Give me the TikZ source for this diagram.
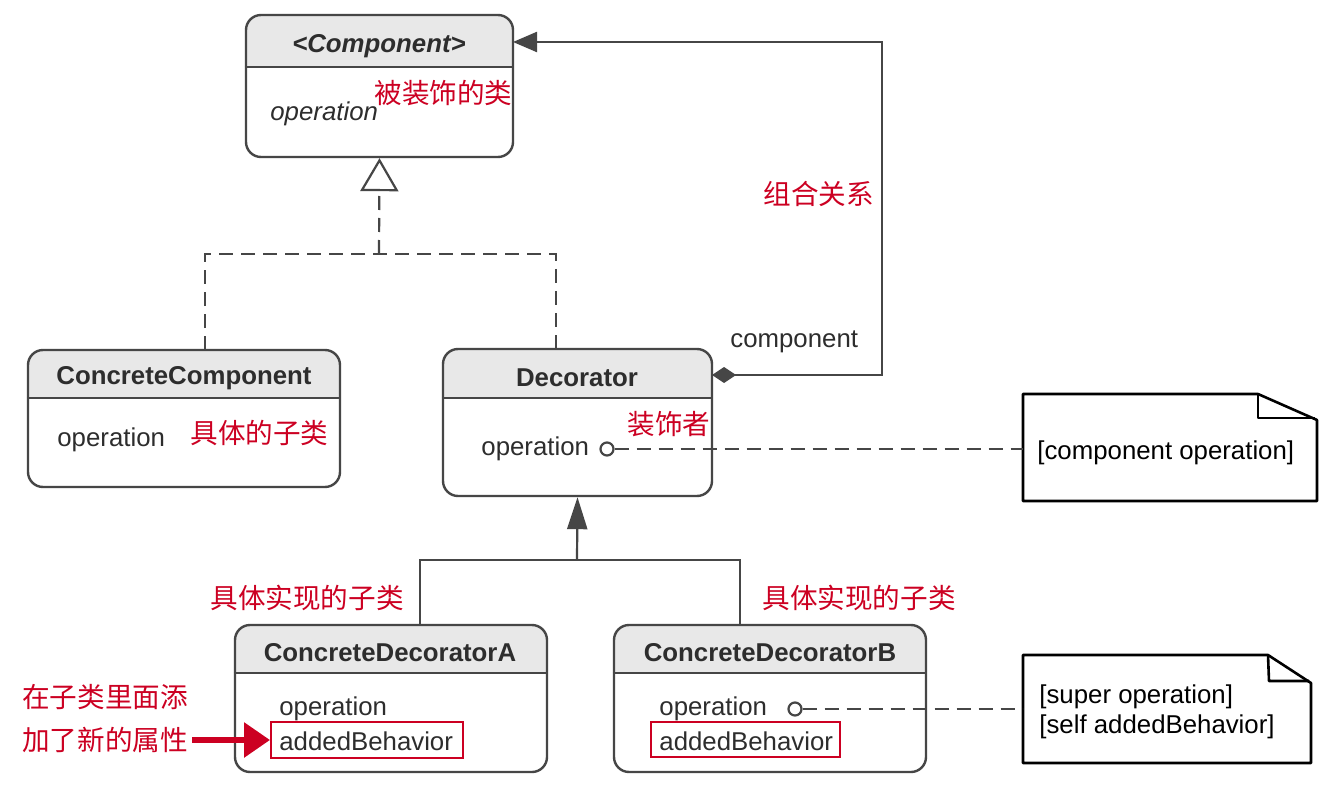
\documentclass[tikz,border=0pt]{standalone}
\usepackage{fontspec}
\setmainfont{Liberation Sans}
\newfontfamily\cjk{Noto Sans CJK SC}
\usetikzlibrary{arrows.meta,fit,calc}
\definecolor{redc}{RGB}{204,0,34}
\definecolor{linec}{RGB}{70,70,70}
\definecolor{headc}{RGB}{232,232,232}
\definecolor{txtc}{RGB}{45,45,45}
\newcommand\classhead[5]{%
  \begin{scope}\clip[rounded corners=7.5pt] (#1,#2) rectangle (#3,#4);
  \fill[headc] (#1,#2) rectangle (#3,#5);\end{scope}}
\begin{document}
\begin{tikzpicture}[x=0.5pt,y=-0.5pt,
  classbox/.style={draw=linec, line width=1.2pt, rounded corners=7.5pt, inner sep=0pt},
  sepline/.style={draw=linec, line width=1.1pt},
  title/.style={font=\fontsize{12.9}{15}\selectfont\bfseries, text=txtc, inner sep=0pt},
  member/.style={font=\fontsize{12.9}{15}\selectfont, text=txtc, inner sep=0pt, anchor=west},
  itmember/.style={member, font=\fontsize{12.9}{15}\selectfont\itshape},
  redlabel/.style={font=\cjk\fontsize{13.8}{16}\selectfont, text=redc, inner sep=0pt, anchor=west},
  notetext/.style={font=\fontsize{12.9}{15}\selectfont, text=black, inner sep=0pt, anchor=west, align=left},
  notebox/.style={draw=black, line width=1.3pt, line join=round},
  conn/.style={draw=linec, line width=1.1pt},
  dashc/.style={conn, dash pattern=on 7pt off 4pt},
  redbox/.style={draw=redc, line width=1pt, inner sep=0pt},
  opcirc/.style={circle, draw=linec, line width=1.1pt, fill=white, minimum size=6.5pt, inner sep=0pt},
]
\useasboundingbox (0,0) rectangle (1338,786);
\fill[white] (0,0) rectangle (1338,786);

% ---- Component
\classhead{246}{15}{513}{157}{67}
\node[classbox, fit={(246,15)(513,157)}] (comp) {};
\draw[sepline] (comp.west |- 0,67) -- (comp.east |- 0,67);
\node[title, font=\fontsize{12.9}{15}\selectfont\bfseries\itshape] (compT) at (379,46) {<Component>};
\node[itmember] (compOp) at (270,114) {operation};
\node[redlabel] (lblComp) at (374,93) {被装饰的类};

% ---- ConcreteComponent
\classhead{28}{350}{340}{487}{398}
\node[classbox, fit={(28,350)(340,487)}] (cc) {};
\draw[sepline] (cc.west |- 0,398) -- (cc.east |- 0,398);
\node[title] (ccT) at (184,378) {ConcreteComponent};
\node[member] (ccOp) at (57,440) {operation};
\node[redlabel] (lblCC) at (190,433) {具体的子类};

% ---- Decorator
\classhead{443}{349}{712}{496}{398}
\node[classbox, fit={(443,349)(712,496)}] (dec) {};
\draw[sepline] (dec.west |- 0,398) -- (dec.east |- 0,398);
\node[title] (decT) at (577,378) {Decorator};
\node[member] (decOp) at (481,449) {operation};
\node[opcirc] (decC) at (607,449) {};
\node[redlabel] (lblDec) at (627,424) {装饰者};

% ---- ConcreteDecoratorA
\classhead{235}{625}{547}{772}{673}
\node[classbox, fit={(235,625)(547,772)}] (cda) {};
\draw[sepline] (cda.west |- 0,673) -- (cda.east |- 0,673);
\node[title] (cdaT) at (390,653) {ConcreteDecoratorA};
\node[member] (cdaOp) at (279,709) {operation};
\node[member] (cdaAdd) at (279,741) {addedBehavior};
\node[redbox, fit={(271,722)(463,758)}] (redA) {};

% ---- ConcreteDecoratorB
\classhead{614}{625}{926}{772}{673}
\node[classbox, fit={(614,625)(926,772)}] (cdb) {};
\draw[sepline] (cdb.west |- 0,673) -- (cdb.east |- 0,673);
\node[title] (cdbT) at (770,653) {ConcreteDecoratorB};
\node[member] (cdbOp) at (659,709) {operation};
\node[opcirc] (cdbC) at (795,709) {};
\node[member] (cdbAdd) at (659,741) {addedBehavior};
\node[redbox, fit={(651,722)(840,757)}] (redB) {};

% ---- Notes
\node[inner sep=0pt, fit={(1023,394)(1317,501)}] (note1) {};
\draw[notebox] (1023,394) -- (1258,394) -- (1317,420) -- (1317,501) -- (1023,501) -- cycle;
\draw[notebox] (1258,394) -- (1258,418) -- (1315,418);
\node[notetext] (note1T) at (1037,453) {[component operation]};

\node[inner sep=0pt, fit={(1023,655)(1311,763)}] (note2) {};
\draw[notebox] (1023,655) -- (1268,655) -- (1311,683) -- (1311,763) -- (1023,763) -- cycle;
\draw[notebox] (1268,655) -- (1269,681) -- (1309,681);
\node[notetext] (note2T) at (1039,712) {[super operation]\\{}[self addedBehavior]};

% ---- Generalization Component <- CC, Decorator
\coordinate (gen) at (379,254);
\coordinate (ccTop) at (205,350);
\coordinate (decTop) at (556,349);
\draw[dashc] (ccTop) |- (gen) -| (decTop);
\draw[dashc, -{Triangle[open, length=16.5pt, width=19pt, line width=1.1pt]}] (gen) -- (comp.south);

% ---- Association Decorator -> Component
\coordinate (decA) at (712,375);
\coordinate (assocC) at (882,42);
\coordinate (compA) at (513,42);
\draw[conn, {Diamond[length=12pt, width=8pt]}-{Triangle[length=12pt, width=10pt]}] (decA) -| (assocC) -- (compA);
\node[member] (assocLbl) at (730,342) {component};
\node[redlabel] (lblAssoc) at (763,194) {组合关系};

% ---- Generalization Decorator <- CDA, CDB
\coordinate (j2) at (577,560);
\coordinate (cdaTop) at (420,625);
\coordinate (cdbTop) at (740,625);
\draw[conn] (cdaTop) |- (j2) -| (cdbTop);
\draw[conn, -{Triangle[length=16pt, width=10pt]}] (j2) -- (dec.south);
\node[redlabel] (lblCDA) at (210,598) {具体实现的子类};
\node[redlabel] (lblCDB) at (762,598) {具体实现的子类};

% ---- Note links
\draw[dashc] (decC.east) -- (decC -| note1.west);
\draw[dashc] (cdbC.east) -- (cdbC -| note2.west);

% ---- Red annotation
\node[redlabel] (lblAdd1) at (22,697) {在子类里面添};
\node[redlabel] (lblAdd2) at (22,740) {加了新的属性};
\coordinate (redStart) at (192,740);
\draw[redc, line width=3pt, -{Triangle[length=13pt, width=17pt]}] (redStart) -- (redA.west);
\end{tikzpicture}
\end{document}
